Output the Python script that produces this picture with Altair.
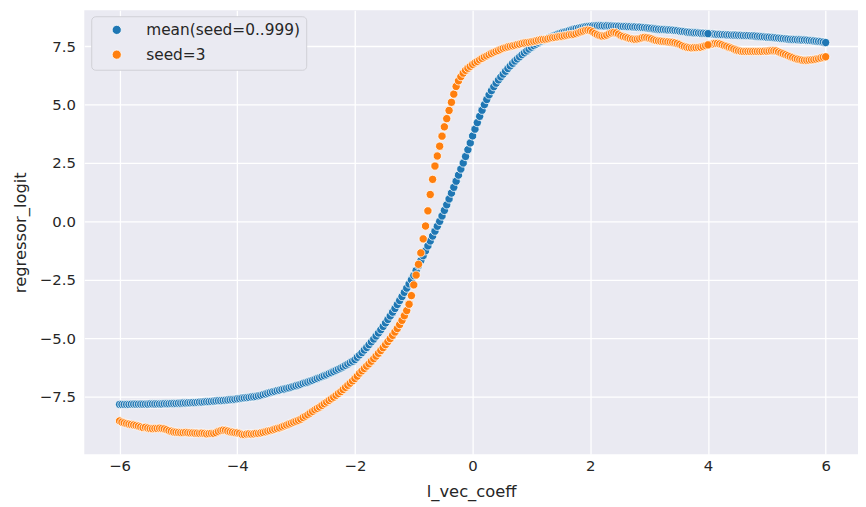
import numpy as np
import pandas as pd
import altair as alt

# sampling grid of l_vec_coeff
x_grid = np.round(np.linspace(-6, 6, 301), 2)

series_names = ["mean(seed=0..999)", "seed=3"]
series_colors = ["#1f77b4", "#ff7f0e"]

# mean(seed=0..999), x = -6.00 .. 6.00 step 0.04
mean_values = [
    # -6.00 .. -4.00
    -7.84, -7.84, -7.84, -7.84, -7.84, -7.83, -7.83, -7.83, -7.83, -7.83,
    -7.83, -7.83, -7.83, -7.82, -7.82, -7.82, -7.82, -7.82, -7.82, -7.81,
    -7.81, -7.81, -7.80, -7.80, -7.80, -7.79,
    -7.79, -7.78, -7.78, -7.77, -7.77, -7.76, -7.76, -7.75, -7.74, -7.74,
    -7.73, -7.72, -7.72, -7.71, -7.70, -7.69, -7.68, -7.68, -7.67, -7.66,
    -7.65, -7.64, -7.63, -7.62, -7.60,
    # -3.96 .. -3.00
    -7.59, -7.57, -7.56, -7.55, -7.54, -7.52, -7.51, -7.50, -7.47, -7.45,
    -7.42, -7.39, -7.36, -7.33, -7.30, -7.28, -7.25, -7.23, -7.20, -7.18,
    -7.15, -7.13, -7.10, -7.07, -7.04,
    # -2.96 .. -2.00
    -7.01, -6.98, -6.94, -6.91, -6.88, -6.84, -6.81, -6.77, -6.73, -6.69,
    -6.65, -6.61, -6.57, -6.52, -6.48, -6.43, -6.38, -6.33, -6.28, -6.23,
    -6.17, -6.11, -6.05, -5.99, -5.92,
    # -1.96 .. -1.00
    -5.82, -5.72, -5.62, -5.51, -5.40, -5.28, -5.16, -5.04, -4.91, -4.78,
    -4.64, -4.50, -4.35, -4.20, -4.05, -3.89, -3.73, -3.56, -3.39, -3.22,
    -3.04, -2.86, -2.68, -2.50, -2.32,
    # -0.96 .. 0.00
    -2.10, -1.89, -1.68, -1.47, -1.26, -1.05, -0.84, -0.63, -0.42, -0.21,
    0.00, 0.23, 0.47, 0.71, 0.96, 1.21, 1.46, 1.72, 1.98, 2.24,
    2.50, 2.78, 3.07, 3.36, 3.66,
    # 0.04 .. 1.00
    3.95, 4.23, 4.50, 4.76, 5.00, 5.22, 5.42, 5.60, 5.77, 5.92,
    6.06, 6.19, 6.31, 6.43, 6.55, 6.66, 6.77, 6.87, 6.96, 7.05,
    7.14, 7.22, 7.30, 7.38, 7.46,
    # 1.04 .. 2.00
    7.53, 7.59, 7.65, 7.71, 7.76, 7.81, 7.85, 7.89, 7.93, 7.97,
    8.01, 8.05, 8.08, 8.11, 8.14, 8.17, 8.20, 8.23, 8.26, 8.28,
    8.30, 8.32, 8.34, 8.35, 8.36,
    # 2.04 .. 3.00
    8.37, 8.37, 8.38, 8.38, 8.38, 8.37, 8.38, 8.37, 8.37, 8.36,
    8.36, 8.36, 8.35, 8.35, 8.35, 8.34, 8.34, 8.33, 8.33, 8.32,
    8.32, 8.31, 8.30, 8.29, 8.28,
    # 3.04 .. 4.00
    8.27, 8.25, 8.24, 8.23, 8.22, 8.22, 8.21, 8.20, 8.20, 8.19,
    8.18, 8.17, 8.15, 8.14, 8.13, 8.11, 8.10, 8.09, 8.08, 8.08,
    8.07, 8.06, 8.06, 8.05, 8.04,
    # 4.04 .. 5.00
    8.03, 8.03, 8.02, 8.01, 8.01, 8.00, 8.00, 7.99, 7.99, 7.98,
    7.98, 7.98, 7.97, 7.97, 7.96, 7.96, 7.96, 7.95, 7.95, 7.94,
    7.93, 7.92, 7.91, 7.90, 7.89,
    # 5.04 .. 6.00
    7.89, 7.88, 7.87, 7.86, 7.85, 7.84, 7.83, 7.82, 7.81, 7.80,
    7.79, 7.79, 7.78, 7.78, 7.77, 7.77, 7.76, 7.75, 7.74, 7.73,
    7.72, 7.71, 7.70, 7.68, 7.66,
]

# seed=3, x = -6.00 .. 6.00 step 0.04
seed3_values = [
    # -6.00 .. -4.00
    -8.55, -8.60, -8.63, -8.66, -8.68, -8.70, -8.72, -8.74, -8.77, -8.80,
    -8.83, -8.82, -8.85, -8.87, -8.88, -8.87, -8.87, -8.86, -8.87, -8.89,
    -8.92, -8.96, -8.99, -9.02, -9.03, -9.04, -9.05, -9.05, -9.04, -9.05,
    -9.06, -9.06, -9.07, -9.07, -9.08, -9.07, -9.08, -9.10, -9.09, -9.08,
    -9.08, -9.05, -9.00, -8.96, -8.94, -8.95, -8.98, -9.01, -9.03, -9.05,
    -9.06,
    # -3.96 .. -3.00
    -9.08, -9.12, -9.13, -9.11, -9.10, -9.11, -9.10, -9.08, -9.08, -9.06,
    -9.04, -9.01, -8.98, -8.96, -8.93, -8.90, -8.87, -8.84, -8.80, -8.76,
    -8.72, -8.68, -8.64, -8.60, -8.56,
    # -2.96 .. -2.00
    -8.52, -8.47, -8.40, -8.34, -8.28, -8.21, -8.14, -8.07, -8.01, -7.95,
    -7.88, -7.81, -7.74, -7.67, -7.60, -7.53, -7.45, -7.37, -7.29, -7.20,
    -7.11, -7.02, -6.93, -6.83, -6.73,
    # -1.96 .. -1.00
    -6.63, -6.50, -6.40, -6.30, -6.20, -6.10, -5.99, -5.88, -5.77, -5.65,
    -5.53, -5.41, -5.28, -5.15, -5.02, -4.88, -4.74, -4.59, -4.42, -4.24,
    -4.04, -3.82, -3.55, -3.18, -2.72,
    # -0.96 .. 0.00
    -2.30, -1.84, -1.35, -0.75, -0.20, 0.45, 1.15, 1.80, 2.37, 2.80,
    3.22, 3.65, 4.05, 4.40, 4.75, 5.10, 5.45, 5.78, 6.02, 6.20,
    6.35, 6.47, 6.56, 6.64, 6.72,
    # 0.04 .. 1.00
    6.79, 6.85, 6.92, 6.98, 7.04, 7.09, 7.14, 7.19, 7.24, 7.28,
    7.32, 7.37, 7.41, 7.44, 7.47, 7.50, 7.52, 7.54, 7.57, 7.59,
    7.62, 7.64, 7.66, 7.67, 7.69,
    # 1.04 .. 2.00
    7.71, 7.73, 7.76, 7.78, 7.79, 7.80, 7.82, 7.85, 7.87, 7.88,
    7.90, 7.92, 7.93, 7.95, 7.97, 7.99, 8.00, 8.01, 8.04, 8.08,
    8.12, 8.15, 8.18, 8.19, 8.17,
    # 2.04 .. 3.00
    8.12, 8.05, 8.00, 7.96, 7.94, 7.95, 7.98, 8.03, 8.07, 8.09,
    8.07, 8.02, 7.96, 7.92, 7.89, 7.86, 7.83, 7.81, 7.80, 7.81,
    7.83, 7.86, 7.88, 7.87, 7.85,
    # 3.04 .. 4.00
    7.82, 7.78, 7.75, 7.73, 7.72, 7.71, 7.70, 7.69, 7.68, 7.67,
    7.65, 7.62, 7.58, 7.53, 7.49, 7.46, 7.44, 7.43, 7.44, 7.44,
    7.45, 7.46, 7.49, 7.53, 7.56,
    # 4.04 .. 5.00
    7.58, 7.60, 7.62, 7.62, 7.60, 7.57, 7.53, 7.50, 7.46, 7.42,
    7.38, 7.34, 7.31, 7.29, 7.28, 7.28, 7.28, 7.28, 7.28, 7.28,
    7.28, 7.28, 7.28, 7.29, 7.29,
    # 5.04 .. 6.00
    7.30, 7.31, 7.31, 7.30, 7.26, 7.22, 7.18, 7.14, 7.10, 7.06,
    7.02, 6.98, 6.95, 6.93, 6.91, 6.90, 6.90, 6.91, 6.92, 6.93,
    6.95, 6.97, 7.00, 7.03, 7.05,
]

x_ticks = [-6, -4, -2, 0, 2, 4, 6]
y_ticks = [-7.5, -5.0, -2.5, 0.0, 2.5, 5.0, 7.5]

df_mean = pd.DataFrame({"l_vec_coeff": x_grid, "regressor_logit": mean_values,
                        "series": series_names[0]})
df_seed = pd.DataFrame({"l_vec_coeff": x_grid, "regressor_logit": seed3_values,
                        "series": series_names[1]})
# draw order: x=4 points are drawn last (they appear solid in the reference)
late_m = df_mean["l_vec_coeff"] == 4.0
late_s = df_seed["l_vec_coeff"] == 4.0
df = pd.concat([df_mean[~late_m], df_seed[~late_s], df_mean[late_m], df_seed[late_s]],
               ignore_index=True)

font = "DejaVu Sans"
txt = "#262626"

chart = alt.Chart(df).mark_circle(
    size=70, opacity=1, stroke="white", strokeWidth=0.8
).encode(
    x=alt.X("l_vec_coeff:Q",
            scale=alt.Scale(domain=[-6.6, 6.55], nice=False, zero=False),
            axis=alt.Axis(values=x_ticks, title="l_vec_coeff",
                          labelExpr="replace(format(datum.value, 'd'), '-', '\u2212')",
                          labelPadding=5, titleY=38, titleBaseline="middle")),
    y=alt.Y("regressor_logit:Q",
            scale=alt.Scale(domain=[-9.97, 9.04], nice=False, zero=False),
            axis=alt.Axis(values=y_ticks, title="regressor_logit",
                          labelExpr="replace(format(datum.value, '.1f'), '-', '\u2212')",
                          labelPadding=9, titleX=-64, titleY=224,
                          titleBaseline="middle")),
    color=alt.Color("series:N",
                    scale=alt.Scale(domain=series_names, range=series_colors),
                    legend=alt.Legend(title=None, orient="none", legendX=7, legendY=6,
                                      symbolType="circle", symbolSize=85,
                                      symbolStrokeColor="white", symbolStrokeWidth=0.8,
                                      labelFontSize=15.5, labelFont=font, labelColor=txt,
                                      padding=6, symbolOffset=12, labelOffset=22,
                                      rowPadding=8, fillColor="#EAEAF2",
                                      strokeColor="#CFCFD6", cornerRadius=4)),
).properties(
    width=781,
    height=448,
    autosize=alt.AutoSizeParams(type="none"),
    padding={"left": 77, "top": 0, "right": 0, "bottom": 50},
    background="white",
).configure_view(
    fill="#EAEAF2", strokeWidth=0
).configure_axis(
    domain=False, ticks=False, grid=True, gridColor="white", gridWidth=1.3,
    labelFont=font, labelFontSize=15, labelColor=txt,
    titleFont=font, titleFontSize=16.5, titleColor=txt, titleFontWeight="normal",
)

chart.save("out.html", embed_options={"renderer": "svg", "actions": False})
